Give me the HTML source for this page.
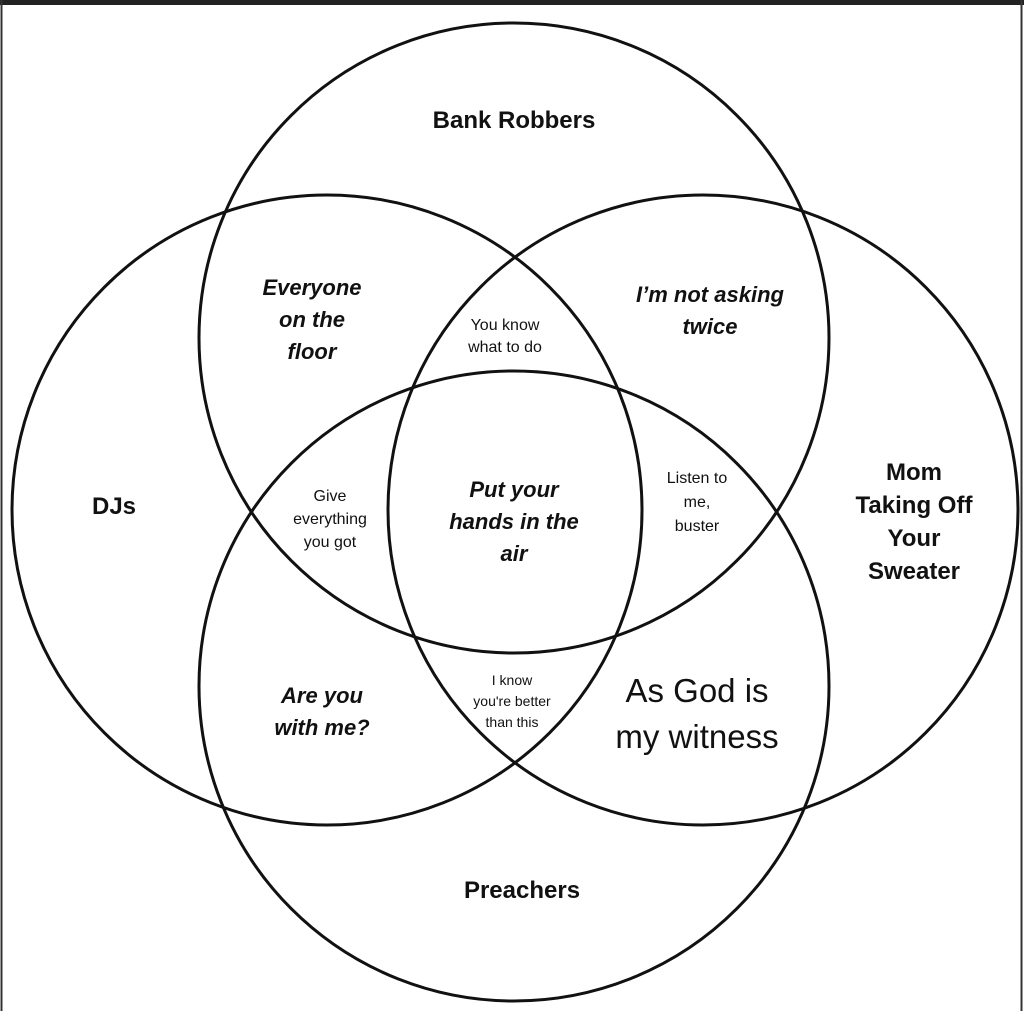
<!DOCTYPE html>
<html><head><style>
html,body{margin:0;padding:0;background:#fff;}
body{width:1024px;height:1011px;overflow:hidden;position:relative;}
svg{position:absolute;left:0;top:0;}
text{font-family:"Liberation Sans",sans-serif;font-weight:bold;fill:#111;text-anchor:middle;}
.i{font-style:italic;}
</style></head><body>
<svg width="1024" height="1011" viewBox="0 0 1024 1011">
<rect x="0" y="0" width="1024" height="1011" fill="#fff"/>
<rect x="0" y="0" width="1024" height="5" fill="#222"/>
<line x1="1.5" y1="0" x2="1.5" y2="1011" stroke="#333" stroke-width="2"/>
<line x1="1021.5" y1="0" x2="1021.5" y2="1011" stroke="#333" stroke-width="2"/>
<g fill="none" stroke="#111" stroke-width="3">
<circle cx="514" cy="338" r="315"/>
<circle cx="514" cy="686" r="315"/>
<circle cx="327" cy="510" r="315"/>
<circle cx="703" cy="510" r="315"/>
</g>
<text x="514" y="128" font-size="24">Bank Robbers</text>
<text x="114" y="514" font-size="24">DJs</text>
<text x="522" y="898" font-size="24">Preachers</text>
<text x="914" y="480" font-size="24">Mom</text>
<text x="914" y="513" font-size="24">Taking Off</text>
<text x="914" y="546" font-size="24">Your</text>
<text x="914" y="579" font-size="24">Sweater</text>
<g font-size="22">
<text class="i" x="312" y="295">Everyone</text>
<text class="i" x="312" y="327">on the</text>
<text class="i" x="312" y="359">floor</text>
<text class="i" x="710" y="302">I’m not asking</text>
<text class="i" x="710" y="334">twice</text>
<text class="i" x="514" y="497">Put your</text>
<text class="i" x="514" y="529">hands in the</text>
<text class="i" x="514" y="561">air</text>
<text class="i" x="322" y="703">Are you</text>
<text class="i" x="322" y="735">with me?</text>
</g>
<g font-size="16">
<text x="505" y="330" style="font-weight:normal">You know</text>
<text x="505" y="352" style="font-weight:normal">what to do</text>
<text x="330" y="501" style="font-weight:normal">Give</text>
<text x="330" y="524" style="font-weight:normal">everything</text>
<text x="330" y="547" style="font-weight:normal">you got</text>
<text x="697" y="483" style="font-weight:normal">Listen to</text>
<text x="697" y="507" style="font-weight:normal">me,</text>
<text x="697" y="531" style="font-weight:normal">buster</text>
<text x="512" y="685" font-size="14" style="font-weight:normal">I know</text>
<text x="512" y="706" font-size="14" style="font-weight:normal">you're better</text>
<text x="512" y="727" font-size="14" style="font-weight:normal">than this</text>
</g>
<text x="697" y="702" font-size="33" style="font-weight:normal">As God is</text>
<text x="697" y="748" font-size="33" style="font-weight:normal">my witness</text>
</svg>
</body></html>
